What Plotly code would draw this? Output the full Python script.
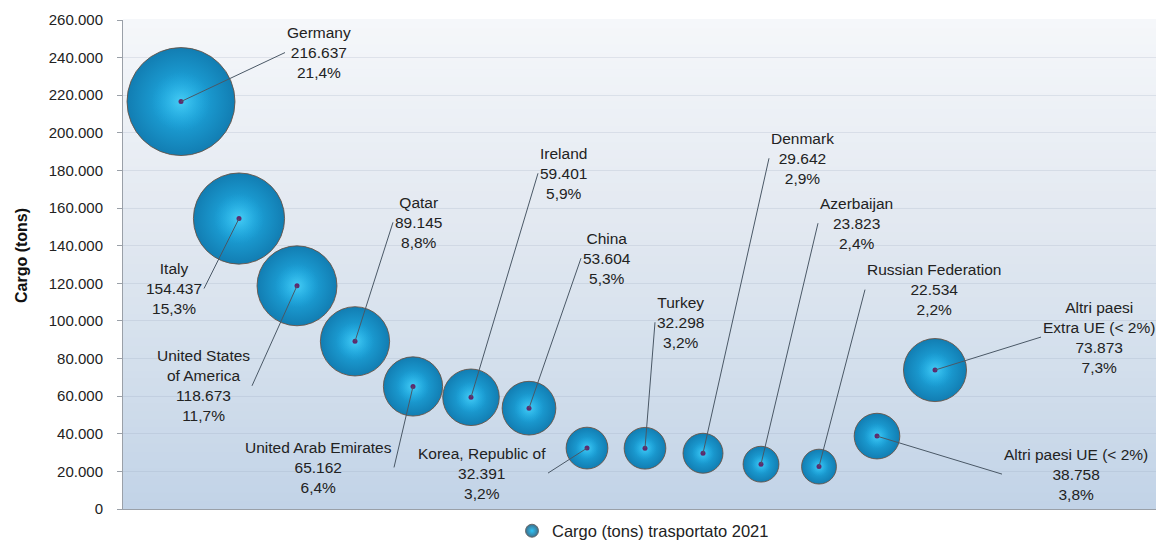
import plotly.graph_objects as go

# ---------------- data ----------------
countries = ["Germany", "Italy", "United States<br>of America", "Qatar", "United Arab Emirates",
             "Ireland", "China", "Korea, Republic of", "Turkey", "Denmark", "Azerbaijan",
             "Russian Federation", "Altri paesi UE (< 2%)", "Altri paesi<br>Extra UE (< 2%)"]
cargo = [216637, 154437, 118673, 89145, 65162, 59401, 53604, 32391, 32298, 29642, 23823,
         22534, 38758, 73873]
share = ["21,4%", "15,3%", "11,7%", "8,8%", "6,4%", "5,9%", "5,3%", "3,2%", "3,2%", "2,9%",
         "2,4%", "2,2%", "3,8%", "7,3%"]
order = list(range(1, len(cargo) + 1))
y_ticks = list(range(0, 260001, 20000))

# label placement (pixel offsets of leader-line end, anchor side)
label_ax = [104, -35, -45, 38, -19, 67, 52, -39, 10, 66, 57, 46, 125, 106]
label_ay = [-49, 70, 100, -119, 81, -224, -150, 25, -126, -295, -241, -177, 38, -33]
label_anchor = ["left", "right", "right", "left", "right", "left", "left", "right", "left",
                "left", "left", "left", "left", "left"]

FONT = "Liberation Sans"
TXT = "#222222"

def fmt_it(v):
    return f"{v:,}".replace(",", ".")

fig = go.Figure()

# background gradient bands (style only)
stops = [(0.0, (194, 211, 231)), (0.3, (211, 223, 236)), (0.6, (227, 233, 241)), (1.0, (245, 247, 250))]
def lerp(t):
    for (t0, c0), (t1, c1) in zip(stops[:-1], stops[1:]):
        if t0 <= t <= t1:
            f = (t - t0) / (t1 - t0)
            return "rgb(%d,%d,%d)" % tuple(round(a + (b - a) * f) for a, b in zip(c0, c1))
    return "rgb(%d,%d,%d)" % stops[-1][1]
N = 60
for i in range(N):
    fig.add_shape(type="rect", xref="paper", yref="paper", x0=0, x1=1, y0=i / N, y1=(i + 1) / N + 0.002,
                  fillcolor=lerp((i + 0.5) / N), line=dict(width=0), layer="below")

max_d = 108
core = 0.55
fig.add_trace(go.Scatter(
    x=order, y=cargo, mode="markers", showlegend=False, hoverinfo="skip",
    marker=dict(size=cargo, sizemode="area", sizeref=2 * max(cargo) / max_d ** 2,
                color="#127db2", gradient=dict(type="radial", color="#22b5ec"),
                line=dict(color="rgba(105,80,65,0.85)", width=1), opacity=1)))
fig.add_trace(go.Scatter(
    x=order, y=cargo, mode="markers", showlegend=False, hoverinfo="skip",
    marker=dict(size=cargo, sizemode="area", sizeref=2 * max(cargo) / (max_d * core) ** 2,
                color="rgba(40,180,235,0)", gradient=dict(type="radial", color="rgba(100,222,250,0.8)"),
                line=dict(width=0))))
fig.add_trace(go.Scatter(
    x=order, y=cargo, mode="markers", showlegend=False, hoverinfo="skip",
    marker=dict(size=5, color="#5e2a6e")))
fig.add_trace(go.Scatter(
    x=[None], y=[None], mode="markers", name="Cargo (tons) trasportato 2021",
    marker=dict(size=13, color="#3d6e8a", gradient=dict(type="radial", color="#2ec4f7"),
                line=dict(color="rgba(100,100,100,0.9)", width=1))))

for i in range(len(cargo)):
    fig.add_annotation(
        x=order[i], y=cargo[i], xref="x", yref="y",
        text=f"{countries[i]}<br>{fmt_it(cargo[i])}<br>{share[i]}",
        showarrow=True, arrowhead=0, arrowwidth=1, arrowcolor="#4a5866",
        ax=label_ax[i], ay=label_ay[i], axref="pixel", ayref="pixel",
        xanchor=label_anchor[i], yanchor="middle", align="center",
        standoff=0, startstandoff=0,
        font=dict(family=FONT, size=15.5, color=TXT))

fig.add_annotation(text="<b>Cargo (tons)</b>", xref="paper", yref="paper",
                   x=(21 - 123) / 1033, y=(509 - 256) / 489, textangle=-90, showarrow=False,
                   xanchor="center", yanchor="middle",
                   font=dict(family=FONT, size=16, color="#111111"))

fig.update_layout(
    width=1156, height=541,
    margin=dict(l=123, r=0, t=20, b=32, autoexpand=False),
    paper_bgcolor="white", plot_bgcolor="#e3e9f1",
    separators=",.",
    font=dict(family=FONT, color=TXT),
    xaxis=dict(range=[0, (1156 - 123) / 58], showgrid=False, zeroline=False, showticklabels=False,
               showline=True, linecolor="#9aa0a8", linewidth=1, ticks=""),
    yaxis=dict(range=[0, 260000], tickvals=y_ticks, tickformat=",d", showgrid=True,
               gridcolor="rgba(150,165,185,0.22)", gridwidth=1, zeroline=False,
               showline=True, linecolor="#9aa0a8", linewidth=1, ticks="outside", ticklen=5,
               tickcolor="#9aa0a8", tickfont=dict(family=FONT, size=15, color=TXT),
               ticklabelstandoff=11),
    legend=dict(orientation="h", xref="container", yref="container", x=512 / 1156, y=10 / 541,
                xanchor="left", yanchor="middle", font=dict(family=FONT, size=16.5, color=TXT),
                bgcolor="rgba(0,0,0,0)", itemwidth=30),
)

fig.write_html("out.html", config={"displayModeBar": False},
               post_script="document.body.style.margin='0';document.body.style.overflow='hidden';")
